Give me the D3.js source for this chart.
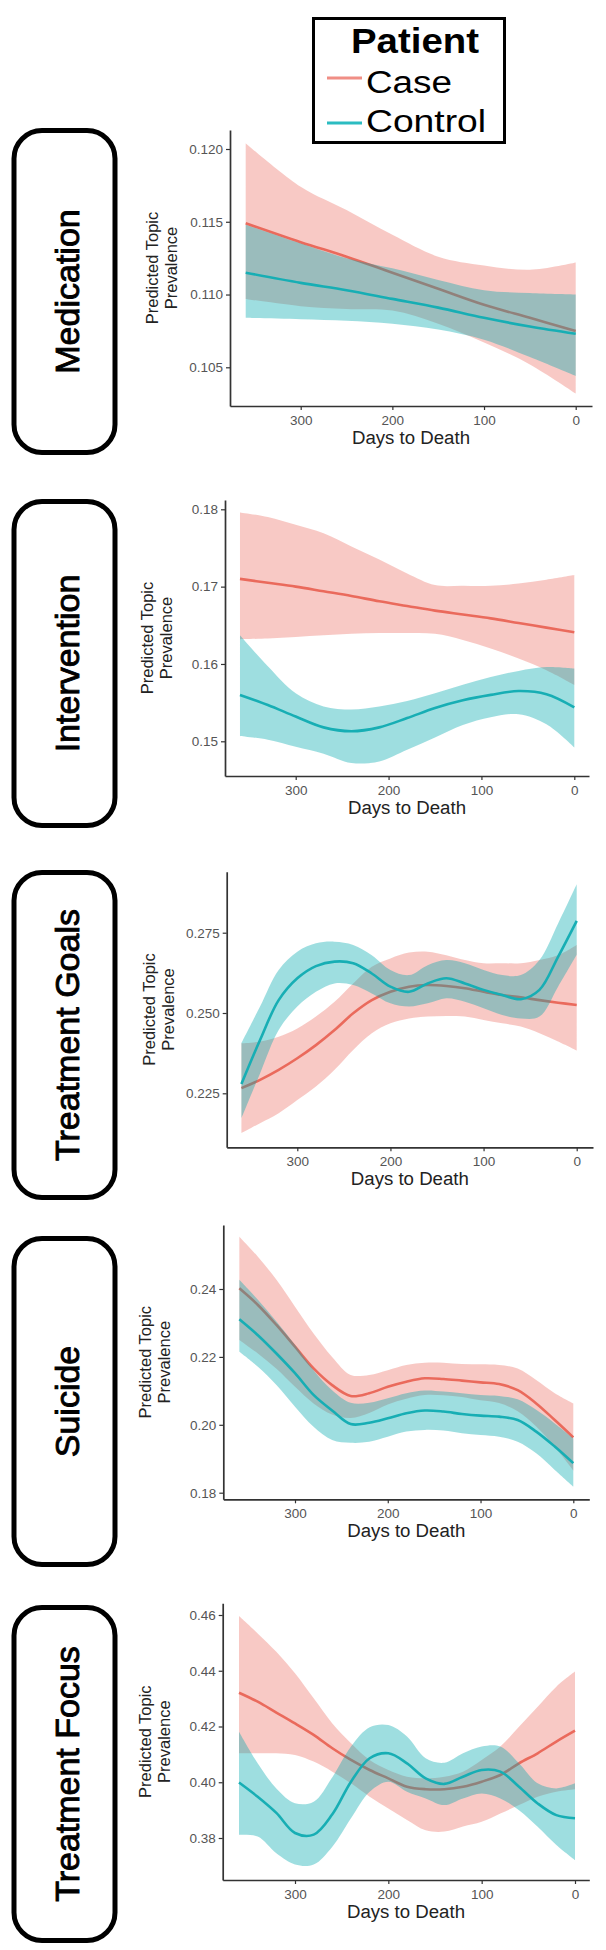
<!DOCTYPE html>
<html><head><meta charset="utf-8">
<script src="https://cdn.jsdelivr.net/npm/d3@7"></script>
<style>body{margin:0;background:#fff}svg{display:block}</style>
</head><body>
<svg id="chart" width="606" height="1950"></svg>
<script>
// ---------------- DATA ----------------
const topics = ["Medication", "Intervention", "Treatment Goals", "Suicide", "Treatment Focus"];
const seriesNames = ["Case", "Control"];
const xTicks = [300, 200, 100, 0];
const xTickLabels = ["300", "200", "100", "0"];

// Medication
const medicationDays = [360, 300, 250, 200, 150, 100, 50, 0];
const medicationCaseFit = [0.1149, 0.1136, 0.1126, 0.1115, 0.1104, 0.1093, 0.1084, 0.1075];
const medicationCaseUpper = [0.1204, 0.1174, 0.1158, 0.1141, 0.1126, 0.1120, 0.1117, 0.1122];
const medicationCaseLower = [0.1097, 0.1092, 0.1090, 0.1089, 0.1080, 0.1067, 0.1052, 0.1032];
const medicationControlFit = [0.1115, 0.1108, 0.1103, 0.1097, 0.1091, 0.1084, 0.1078, 0.1073];
const medicationControlUpper = [0.1148, 0.1135, 0.1125, 0.1118, 0.1110, 0.1103, 0.1101, 0.1100];
const medicationControlLower = [0.1084, 0.1083, 0.1082, 0.1080, 0.1076, 0.1069, 0.1057, 0.1044];
const medicationTicks = [0.105, 0.110, 0.115, 0.120];
const medicationTickLabels = ["0.105", "0.110", "0.115", "0.120"];

// Intervention
const interventionDays = [360, 330, 300, 270, 240, 210, 180, 150, 120, 90, 60, 30, 0];
const interventionCaseFit = [0.1710, 0.1705, 0.1700, 0.1694, 0.1688, 0.1681, 0.1675, 0.1669, 0.1664, 0.1659, 0.1653, 0.1647, 0.1641];
const interventionCaseUpper = [0.1796, 0.1790, 0.1780, 0.1769, 0.1752, 0.1735, 0.1717, 0.1702, 0.1701, 0.1701, 0.1704, 0.1709, 0.1715];
const interventionCaseLower = [0.1632, 0.1633, 0.1635, 0.1637, 0.1639, 0.1640, 0.1640, 0.1639, 0.1631, 0.1620, 0.1607, 0.1592, 0.1573];
const interventionControlFit = [0.1560, 0.1547, 0.1532, 0.1518, 0.1513, 0.1518, 0.1530, 0.1543, 0.1553, 0.1560, 0.1565, 0.1561, 0.1544];
const interventionControlUpper = [0.1637, 0.1597, 0.1562, 0.1545, 0.1541, 0.1545, 0.1552, 0.1562, 0.1573, 0.1583, 0.1591, 0.1596, 0.1594];
const interventionControlLower = [0.1507, 0.1502, 0.1493, 0.1484, 0.1472, 0.1474, 0.1489, 0.1505, 0.1521, 0.1531, 0.1535, 0.1522, 0.1492];
const interventionTicks = [0.15, 0.16, 0.17, 0.18];
const interventionTickLabels = ["0.15", "0.16", "0.17", "0.18"];

// Treatment Goals
const goalsDays = [360, 340, 320, 300, 280, 260, 240, 220, 200, 180, 160, 140, 120, 100, 80, 60, 40, 20, 0];
const goalsCaseFit = [0.2266, 0.2292, 0.2323, 0.2359, 0.2400, 0.2447, 0.2499, 0.2540, 0.2566, 0.2582, 0.2587, 0.2584, 0.2577, 0.2566, 0.2556, 0.2549, 0.2540, 0.2532, 0.2525];
const goalsCaseUpper = [0.2406, 0.2411, 0.2426, 0.2452, 0.2489, 0.2535, 0.2592, 0.2644, 0.2670, 0.2688, 0.2691, 0.2680, 0.2665, 0.2655, 0.2655, 0.2655, 0.2665, 0.2680, 0.2712];
const goalsCaseLower = [0.2126, 0.2157, 0.2188, 0.2229, 0.2271, 0.2323, 0.2385, 0.2437, 0.2468, 0.2483, 0.2489, 0.2491, 0.2489, 0.2478, 0.2468, 0.2458, 0.2437, 0.2411, 0.2383];
const goalsControlFit = [0.2279, 0.2416, 0.2540, 0.2608, 0.2646, 0.2660, 0.2655, 0.2623, 0.2582, 0.2566, 0.2592, 0.2608, 0.2592, 0.2572, 0.2556, 0.2543, 0.2572, 0.2675, 0.2787];
const goalsControlUpper = [0.2406, 0.2520, 0.2634, 0.2691, 0.2717, 0.2722, 0.2712, 0.2680, 0.2634, 0.2618, 0.2649, 0.2665, 0.2655, 0.2634, 0.2618, 0.2618, 0.2665, 0.2779, 0.2901];
const goalsControlLower = [0.2172, 0.2312, 0.2447, 0.2520, 0.2566, 0.2592, 0.2587, 0.2561, 0.2530, 0.2520, 0.2530, 0.2546, 0.2535, 0.2515, 0.2494, 0.2483, 0.2489, 0.2582, 0.2681];
const goalsTicks = [0.225, 0.250, 0.275];
const goalsTickLabels = ["0.225", "0.250", "0.275"];

// Suicide
const suicideDays = [360, 340, 320, 300, 280, 260, 240, 220, 200, 180, 160, 140, 120, 100, 80, 60, 40, 20, 0];
const suicideCaseFit = [0.2402, 0.2353, 0.2294, 0.2230, 0.2166, 0.2117, 0.2085, 0.2093, 0.2112, 0.2127, 0.2137, 0.2135, 0.2130, 0.2125, 0.2120, 0.2102, 0.2063, 0.2014, 0.1963];
const suicideCaseUpper = [0.2554, 0.2495, 0.2427, 0.2348, 0.2269, 0.2200, 0.2147, 0.2147, 0.2161, 0.2176, 0.2183, 0.2183, 0.2179, 0.2178, 0.2176, 0.2166, 0.2132, 0.2093, 0.2063];
const suicideCaseLower = [0.2250, 0.2210, 0.2165, 0.2112, 0.2063, 0.2030, 0.2020, 0.2035, 0.2060, 0.2077, 0.2088, 0.2087, 0.2082, 0.2072, 0.2064, 0.2040, 0.1995, 0.1935, 0.1865];
const suicideControlFit = [0.2311, 0.2264, 0.2210, 0.2152, 0.2088, 0.2042, 0.2002, 0.2006, 0.2019, 0.2034, 0.2042, 0.2039, 0.2032, 0.2027, 0.2024, 0.2014, 0.1980, 0.1936, 0.1887];
const suicideControlUpper = [0.2427, 0.2368, 0.2304, 0.2235, 0.2161, 0.2102, 0.2065, 0.2065, 0.2078, 0.2093, 0.2101, 0.2098, 0.2093, 0.2088, 0.2085, 0.2075, 0.2044, 0.2004, 0.1960];
const suicideControlLower = [0.2215, 0.2171, 0.2117, 0.2053, 0.1994, 0.1955, 0.1947, 0.1950, 0.1965, 0.1980, 0.1985, 0.1983, 0.1975, 0.1970, 0.1965, 0.1950, 0.1916, 0.1867, 0.1818];
const suicideTicks = [0.18, 0.20, 0.22, 0.24];
const suicideTickLabels = ["0.18", "0.20", "0.22", "0.24"];

// Treatment Focus
const focusDays = [360, 340, 320, 300, 280, 260, 240, 220, 200, 180, 160, 140, 120, 100, 80, 60, 40, 20, 0];
const focusCaseFit = [0.4321, 0.4289, 0.4250, 0.4211, 0.4170, 0.4122, 0.4080, 0.4044, 0.4014, 0.3984, 0.3975, 0.3975, 0.3984, 0.4002, 0.4026, 0.4068, 0.4104, 0.4146, 0.4185];
const focusCaseUpper = [0.4596, 0.4534, 0.4468, 0.4391, 0.4301, 0.4211, 0.4140, 0.4080, 0.4044, 0.4020, 0.4014, 0.4020, 0.4038, 0.4080, 0.4128, 0.4199, 0.4271, 0.4343, 0.4397];
const focusCaseLower = [0.4104, 0.4104, 0.4104, 0.4098, 0.4074, 0.4038, 0.3996, 0.3948, 0.3906, 0.3865, 0.3828, 0.3823, 0.3841, 0.3858, 0.3888, 0.3918, 0.3948, 0.3966, 0.3975];
const focusControlFit = [0.3999, 0.3948, 0.3890, 0.3818, 0.3812, 0.3885, 0.4002, 0.4086, 0.4104, 0.4068, 0.4014, 0.3994, 0.4020, 0.4044, 0.4038, 0.3984, 0.3924, 0.3882, 0.3871];
const focusControlUpper = [0.4181, 0.4068, 0.3978, 0.3925, 0.3930, 0.4018, 0.4128, 0.4197, 0.4205, 0.4164, 0.4086, 0.4070, 0.4104, 0.4128, 0.4128, 0.4068, 0.3996, 0.3978, 0.3996];
const focusControlLower = [0.3811, 0.3805, 0.3745, 0.3705, 0.3705, 0.3769, 0.3871, 0.3966, 0.4002, 0.3966, 0.3942, 0.3918, 0.3942, 0.3960, 0.3942, 0.3900, 0.3840, 0.3775, 0.3721];
const focusTicks = [0.38, 0.40, 0.42, 0.44, 0.46];
const focusTickLabels = ["0.38", "0.40", "0.42", "0.44", "0.46"];

// ---------------- LAYOUT (positions only) ----------------
const layout = [
  {axisX: 230,   top: 130,    bottom: 406,    right: 592,   yRef: [149, 367.3],    xRef: [300.7, 575.7], box: [128, 455]},
  {axisX: 225,   top: 500,    bottom: 776,    right: 589,   yRef: [509.3, 741.3],  xRef: [295.7, 574.3], box: [499, 828]},
  {axisX: 226.7, top: 871.7,  bottom: 1147.3, right: 593,   yRef: [932.7, 1093.3], xRef: [297.3, 576.7], box: [870, 1200]},
  {axisX: 223.3, top: 1225,   bottom: 1499.3, right: 589.3, yRef: [1289, 1492.7],  xRef: [295, 573.3],   box: [1236, 1567]},
  {axisX: 222.7, top: 1603.3, bottom: 1880,   right: 589.3, yRef: [1615, 1838],    xRef: [295, 575],     box: [1605, 1943]}
];

const panelData = [
  {days: medicationDays, cf: medicationCaseFit, cu: medicationCaseUpper, cl: medicationCaseLower, kf: medicationControlFit, ku: medicationControlUpper, kl: medicationControlLower, ticks: medicationTicks, labels: medicationTickLabels},
  {days: interventionDays, cf: interventionCaseFit, cu: interventionCaseUpper, cl: interventionCaseLower, kf: interventionControlFit, ku: interventionControlUpper, kl: interventionControlLower, ticks: interventionTicks, labels: interventionTickLabels},
  {days: goalsDays, cf: goalsCaseFit, cu: goalsCaseUpper, cl: goalsCaseLower, kf: goalsControlFit, ku: goalsControlUpper, kl: goalsControlLower, ticks: goalsTicks, labels: goalsTickLabels},
  {days: suicideDays, cf: suicideCaseFit, cu: suicideCaseUpper, cl: suicideCaseLower, kf: suicideControlFit, ku: suicideControlUpper, kl: suicideControlLower, ticks: suicideTicks, labels: suicideTickLabels},
  {days: focusDays, cf: focusCaseFit, cu: focusCaseUpper, cl: focusCaseLower, kf: focusControlFit, ku: focusControlUpper, kl: focusControlLower, ticks: focusTicks, labels: focusTickLabels}
];

// ---------------- STYLE ----------------
const FONT = "'Liberation Sans', Arial, Helvetica, sans-serif";
const caseBand = "#EE786E", caseLine = "#EA6A5C";
const ctrlBand = "#00A9AE", ctrlLine = "#17AEB4";

const svg = d3.select("#chart").style("font-family", FONT);

// ---------------- LEGEND ----------------
const leg = svg.append("g");
leg.append("rect").attr("x", 313.5).attr("y", 18.5).attr("width", 191).attr("height", 124)
  .attr("fill", "#fff").attr("stroke", "#000").attr("stroke-width", 3);
leg.append("text").attr("x", 415).attr("y", 53).attr("text-anchor", "middle")
  .attr("font-size", 35).attr("font-weight", "bold").attr("textLength", 128)
  .attr("lengthAdjust", "spacingAndGlyphs").text("Patient");
const legItems = [{name: seriesNames[0], color: "#F08E85", y: 78, ty: 93, len: 86},
                  {name: seriesNames[1], color: "#2BBCC1", y: 123, ty: 132, len: 120}];
legItems.forEach(it => {
  leg.append("line").attr("x1", 327).attr("x2", 362).attr("y1", it.y).attr("y2", it.y)
    .attr("stroke", it.color).attr("stroke-width", 3);
  leg.append("text").attr("x", 366).attr("y", it.ty).attr("font-size", 31)
    .attr("textLength", it.len).attr("lengthAdjust", "spacingAndGlyphs").text(it.name);
});

// ---------------- PANELS ----------------
const curve = d3.curveCatmullRom.alpha(0.5);

layout.forEach((L, i) => {
  const P = panelData[i];
  const g = svg.append("g");

  // topic box
  g.append("rect").attr("x", 14).attr("y", L.box[0] + 2.5).attr("width", 101)
    .attr("height", L.box[1] - L.box[0] - 5).attr("rx", 28).attr("ry", 28)
    .attr("fill", "none").attr("stroke", "#000").attr("stroke-width", 5);
  g.append("text").attr("transform", `translate(79,${(L.box[0] + L.box[1]) / 2}) rotate(-90)`)
    .attr("text-anchor", "middle").attr("font-size", 34).attr("fill", "#000")
    .attr("stroke", "#000").attr("stroke-width", 0.9).text(topics[i]);

  // scales
  const tMax = d3.max(P.ticks), tMin = d3.min(P.ticks);
  const y = d3.scaleLinear().domain([tMax, tMin]).range(L.yRef);
  y.domain([y.invert(L.bottom), y.invert(L.top)]).range([L.bottom, L.top]);
  const x = d3.scaleLinear().domain([xTicks[0], xTicks[xTicks.length - 1]]).range(L.xRef);
  x.domain([x.invert(L.axisX), x.invert(L.right)]).range([L.axisX, L.right]);

  const rows = P.days.map((d, k) => ({d, cf: P.cf[k], cu: P.cu[k], cl: P.cl[k], kf: P.kf[k], ku: P.ku[k], kl: P.kl[k]}));

  const area = (lo, hi) => d3.area().x(r => x(r.d)).y0(r => y(r[lo])).y1(r => y(r[hi])).curve(curve);
  const line = key => d3.line().x(r => x(r.d)).y(r => y(r[key])).curve(curve);

  g.append("path").datum(rows).attr("d", area("cl", "cu")).attr("fill", caseBand).attr("fill-opacity", 0.4);
  g.append("path").datum(rows).attr("d", line("cf")).attr("fill", "none").attr("stroke", caseLine).attr("stroke-width", 2.6);
  g.append("path").datum(rows).attr("d", area("kl", "ku")).attr("fill", ctrlBand).attr("fill-opacity", 0.38);
  g.append("path").datum(rows).attr("d", line("kf")).attr("fill", "none").attr("stroke", ctrlLine).attr("stroke-width", 2.6);

  // axes
  const ya = g.append("g").attr("transform", `translate(${L.axisX},0)`)
    .call(d3.axisLeft(y).tickValues(P.ticks).tickFormat((v, k) => P.labels[k])
      .tickSize(4).tickSizeOuter(0).tickPadding(3));
  const xa = g.append("g").attr("transform", `translate(0,${L.bottom})`)
    .call(d3.axisBottom(x).tickValues(xTicks).tickFormat((v, k) => xTickLabels[k])
      .tickSize(4).tickSizeOuter(0).tickPadding(5));
  [ya, xa].forEach(a => {
    a.select(".domain").attr("stroke", "#333").attr("stroke-width", 1.7);
    a.selectAll(".tick line").attr("stroke", "#333").attr("stroke-width", 1.2);
    a.selectAll(".tick text").attr("fill", "#555").attr("font-size", 13.5).attr("font-family", FONT);
  });

  // axis titles
  g.append("text").attr("x", (L.axisX + L.right) / 2).attr("y", L.bottom + 38)
    .attr("text-anchor", "middle").attr("font-size", 18).attr("fill", "#222")
    .attr("textLength", 118).attr("lengthAdjust", "spacingAndGlyphs").text("Days to Death");
  const cy = (L.top + L.bottom) / 2;
  g.append("text").attr("transform", `translate(${L.axisX - 72},${cy}) rotate(-90)`)
    .attr("text-anchor", "middle").attr("font-size", 16.5).attr("fill", "#222").text("Predicted Topic");
  g.append("text").attr("transform", `translate(${L.axisX - 53},${cy}) rotate(-90)`)
    .attr("text-anchor", "middle").attr("font-size", 16.5).attr("fill", "#222").text("Prevalence");
});
</script>
</body></html>
